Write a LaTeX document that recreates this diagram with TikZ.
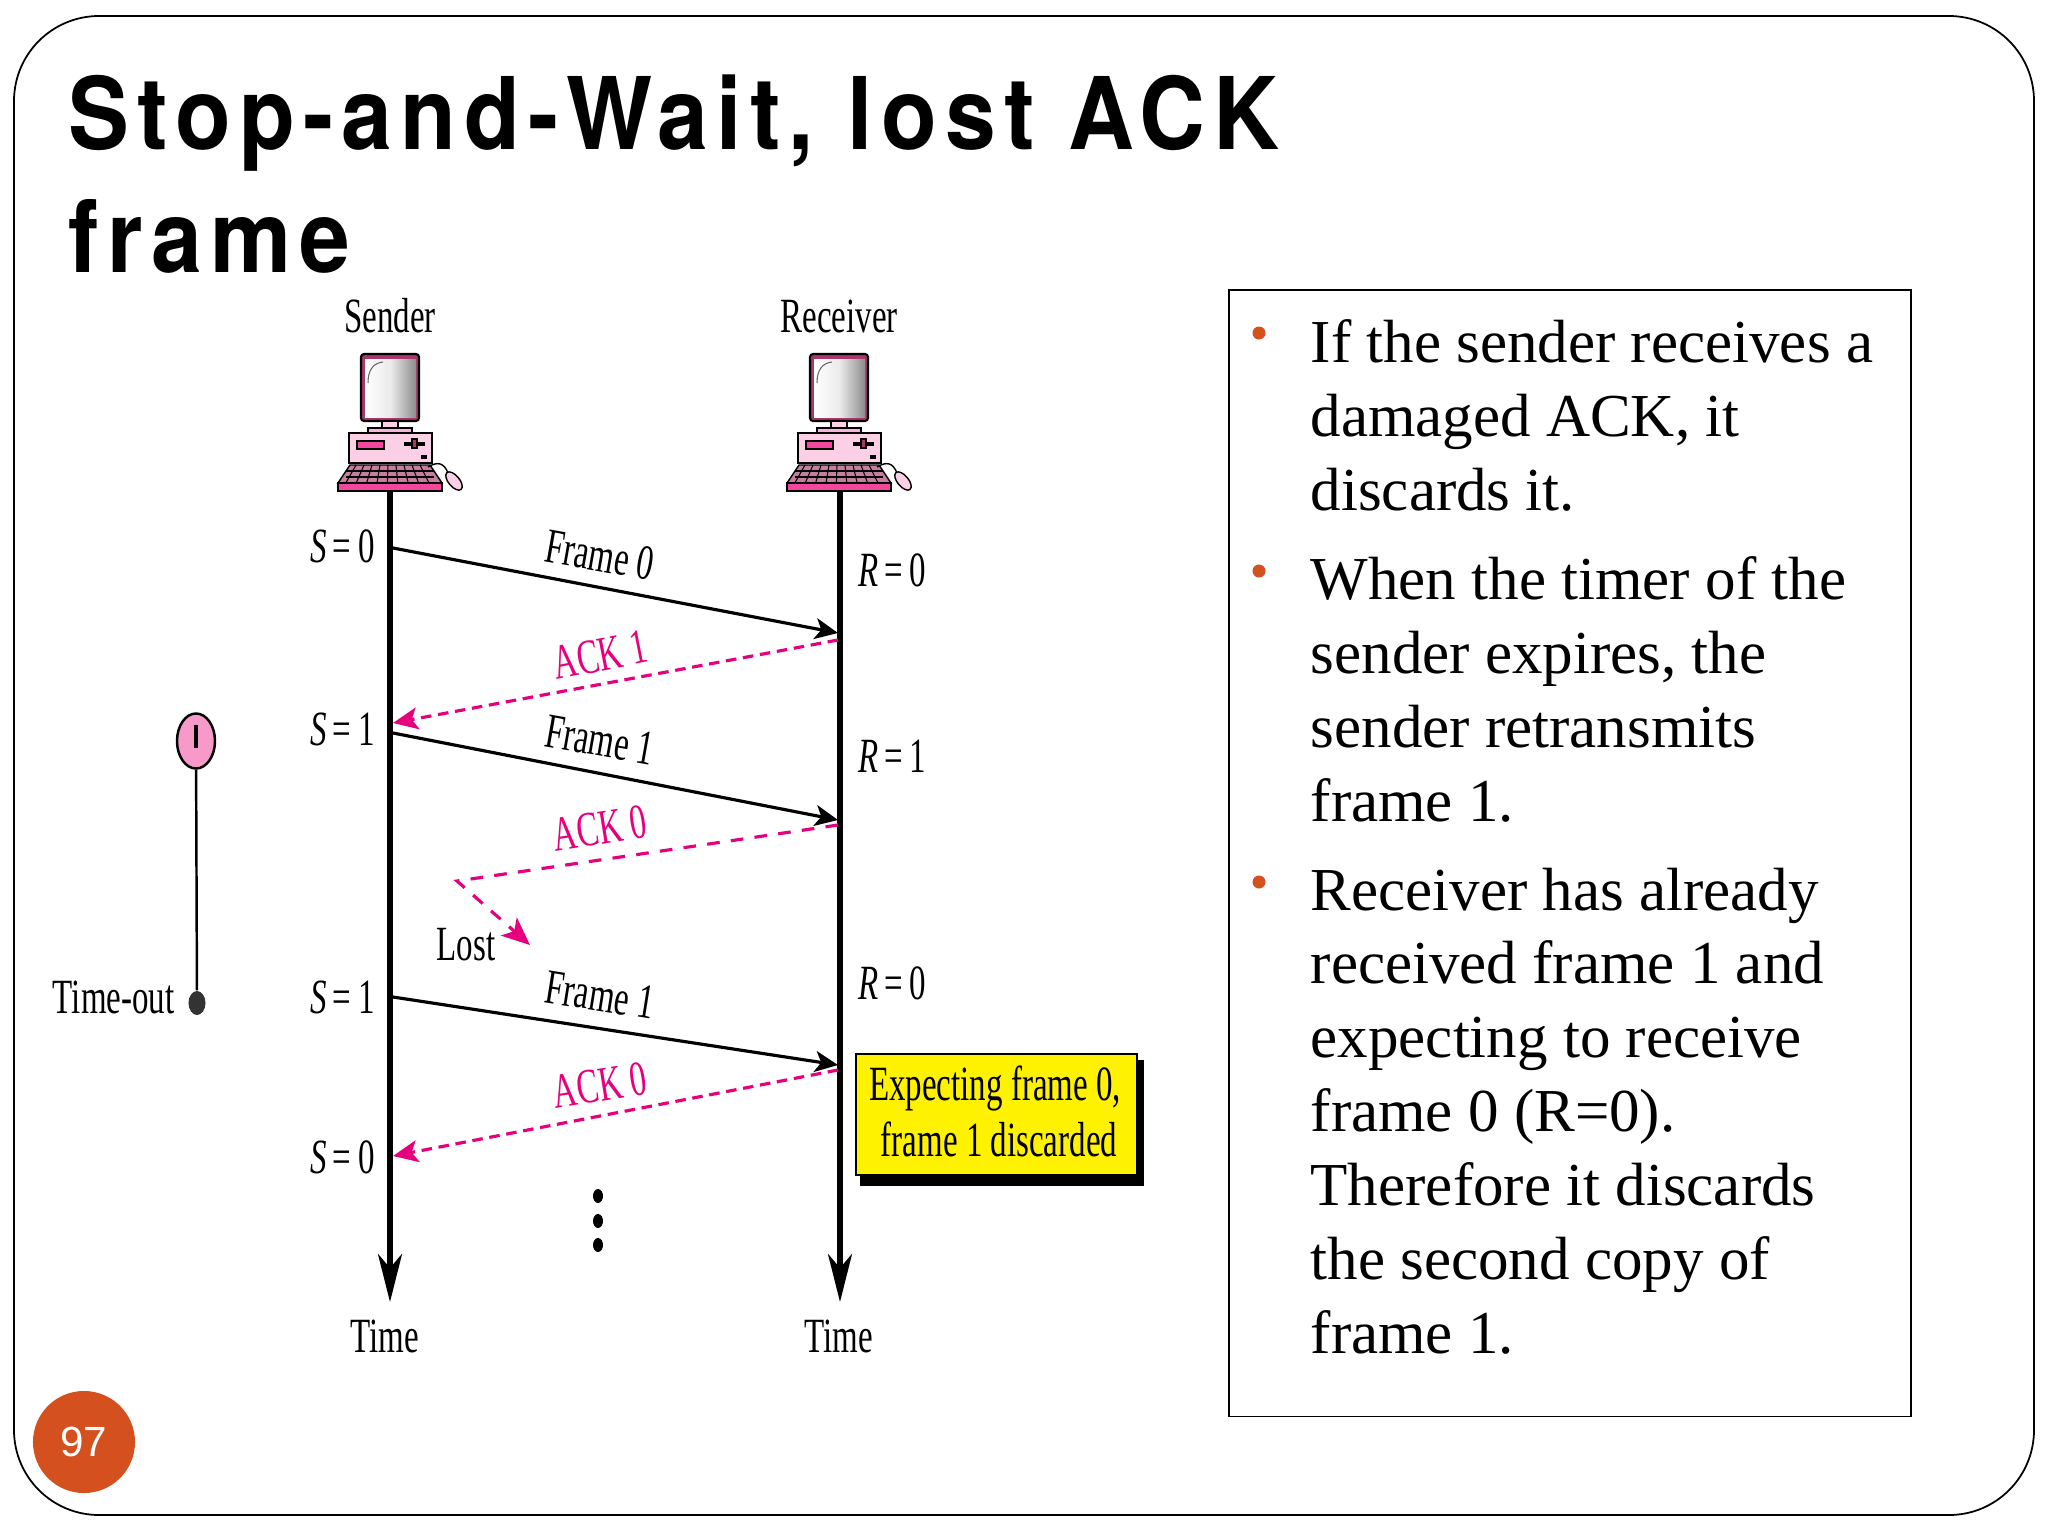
\documentclass[tikz,border=0pt]{standalone}
\usepackage{fontspec}
\setmainfont{Liberation Serif}
\newfontfamily\titlefont[LetterSpace=9]{TeX Gyre Heros}
\newfontfamily\numfont{Liberation Sans}
\usepackage{tikz}
\usetikzlibrary{arrows.meta,positioning,calc,shapes.geometric}
\definecolor{ackpink}{HTML}{E6007E}
\definecolor{bulletred}{HTML}{D4501E}
\definecolor{monpink}{HTML}{A8386A}
\definecolor{casepink}{HTML}{FBD0E6}
\definecolor{keypink}{HTML}{F2479C}
\newcommand{\seq}[2]{\textit{#1}\,=\kern.22em #2}
\tikzset{
  lbl/.style={font=\fontsize{14}{17}\selectfont,xscale=.67,transform shape,inner sep=0pt},
  ackl/.style={lbl,text=ackpink},
  timeline/.style={line width=1.5pt,-{Stealth[length=.48cm,width=.24cm,inset=.14cm]}},
  frm/.style={line width=.9pt,-{Stealth[length=.23cm,width=.21cm,inset=.06cm]}},
  ack/.style={line width=.9pt,ackpink,dash pattern=on 3pt off 1.9pt,-{Stealth[length=.25cm,width=.22cm,inset=.06cm]}},
  lostack/.style={line width=.9pt,ackpink,dash pattern=on 3.6pt off 3.2pt,-{Stealth[length=.28cm,width=.24cm,inset=.07cm]}},
  para/.style={anchor=north west,align=left,inner sep=0pt,font=\fontsize{17.35}{21}\selectfont},
  bul/.style={circle,fill=bulletred,inner sep=0pt,minimum size=.13cm},
  computer/.pic={
    \draw[line width=.6pt,fill=monpink,rounded corners=.03cm] (-29,-137) rectangle (29,-70);
    \shade[left color=white,right color=black!45,middle color=black!8] (-25,-132) rectangle (26,-74);
    \draw[black!60,line width=.3pt] (-22,-108) .. controls (-22,-122) and (-16,-128) .. (-7,-129);
    \draw[line width=.4pt,fill=casepink] (-8,-70) rectangle (8,-63);
    \draw[line width=.4pt,fill=casepink!80!keypink] (-22,-63) rectangle (22,-58);
    \draw[line width=.5pt,fill=casepink] (-41,-58) rectangle (42,-28);
    \draw[line width=.3pt,fill=keypink] (-33,-50) rectangle (-6,-42);
    \draw[line width=.5pt,fill=monpink] (15,-48) rectangle (34,-46);
    \draw[line width=.5pt,fill=monpink] (22,-52) rectangle (27,-43);
    \fill (31,-36) rectangle (37,-32);
    \draw[line width=.4pt,fill=monpink!65] (-40,-26) -- (40,-26) -- (52,-8) -- (-52,-8) -- cycle;
    \foreach \k in {-34,-26,...,34}
      \draw[line width=.3pt] (\k,-26) -- ({\k*1.3},-8);
    \foreach \j in {-20,-14}
      \draw[line width=.3pt] (-44,\j) -- (44,\j);
    \draw[line width=.5pt,fill=keypink] (-52,-8) rectangle (52,0);
    \draw[line width=.4pt] (38,-24) .. controls (48,-30) and (54,-28) .. (58,-18);
    \draw[line width=.4pt,fill=casepink,rotate around={-50:(64,-10)}] (64,-10) ellipse (11 and 5.5);
  }
}
\begin{document}
\begin{tikzpicture}[x=.01cm,y=-.01cm]
\useasboundingbox (0,0) rectangle (2048,1536);
\draw[line width=.5pt,rounded corners=.85cm] (14,16) rectangle (2034,1515);
%
  \node[anchor=north west,align=left,inner sep=0pt,xscale=.91,transform shape,font=\titlefont\bfseries\fontsize{28.5}{35}\selectfont] (title) at (68,74) {Stop-and-Wait, lost ACK\\frame};
%
  \node[lbl] (sender) at (390,316) {Sender};
  \node[lbl] (receiver) at (839,316) {Receiver};
  \pic at (390,491) {computer};
  \pic at (839,491) {computer};
  \coordinate (stop) at (390,491);
  \coordinate (rtop) at (840,491);
  \node[lbl] (stime) at (385,1336) {Time};
  \node[lbl] (rtime) at (839,1336) {Time};
  \coordinate (send) at (390,1302);
  \coordinate (rend) at (840,1302);
  \draw[timeline] (stop) -- (send);
  \draw[timeline] (rtop) -- (rend);
%
  \node[lbl,anchor=east] (s0) at (375,546) {\seq{S}{0}};
  \node[lbl,anchor=east] (s1) at (375,729) {\seq{S}{1}};
  \node[lbl,anchor=east] (s2) at (375,997) {\seq{S}{1}};
  \node[lbl,anchor=east] (s3) at (375,1157) {\seq{S}{0}};
  \node[lbl,anchor=west] (r0) at (858,570) {\seq{R}{0}};
  \node[lbl,anchor=west] (r1) at (858,756) {\seq{R}{1}};
  \node[lbl,anchor=west] (r2) at (858,983) {\seq{R}{0}};
%
  \coordinate (f0a) at (393,548);
  \coordinate (f0b) at (838,633);
  \coordinate (a1a) at (838,640);
  \coordinate (a1b) at (393,723);
  \coordinate (f1a) at (393,733);
  \coordinate (f1b) at (838,820);
  \coordinate (a0a) at (838,825);
  \coordinate (a0b) at (457,881);
  \coordinate (lost) at (530,945);
  \coordinate (f2a) at (393,997);
  \coordinate (f2b) at (838,1065);
  \coordinate (a2a) at (838,1070);
  \coordinate (a2b) at (393,1156);
  \draw[frm] (f0a) -- (f0b);
  \draw[ack] (a1a) -- (a1b);
  \draw[frm] (f1a) -- (f1b);
  \draw[lostack] (a0a) -- (a0b) -- (lost);
  \draw[frm] (f2a) -- (f2b);
  \draw[ack] (a2a) -- (a2b);
%
  \node[rotate=-10,lbl] (lf0) at (600,555) {Frame 0};
  \node[rotate=11,ackl] (la1) at (600,655) {ACK 1};
  \node[rotate=-10,lbl] (lf1) at (600,740) {Frame 1};
  \node[rotate=9,ackl] (la0) at (600,828) {ACK 0};
  \node[lbl] (llost) at (466,945) {Lost};
  \node[rotate=-9,lbl] (lf2) at (600,995) {Frame 1};
  \node[rotate=9,ackl] (la2) at (600,1085) {ACK 0};
%
  \foreach \y in {1196,1221,1245}
    \fill (598,\y) ellipse (5 and 7);
%
  \node[ellipse,draw,line width=.7pt,fill=keypink!55,minimum width=.38cm,minimum height=.55cm,inner sep=0pt] (clock) at (196,741) {};
  \draw[line width=1pt] (196,725) -- (196,748);
  \node[ellipse,fill=black!80,minimum width=.17cm,minimum height=.24cm,inner sep=0pt] (timeup) at (197,1003) {};
  \draw[line width=.7pt] (clock) -- (timeup);
  \node[lbl,anchor=east] (tout) at (175,997) {Time-out};
%
  \fill (860,1060) rectangle (1144,1186);
  \node[draw,line width=.6pt,fill=yellow,anchor=north west,minimum width=2.81cm,minimum height=1.21cm,inner sep=0pt] (note) at (855,1053) {};
  \node[lbl] (notea) at (995,1088) {Expecting frame 0,};
  \node[lbl] (noteb) at (999,1139) {frame 1 discarded};
%
  \node[draw,line width=.5pt,anchor=north west,minimum width=6.82cm,minimum height=11.26cm,inner sep=0pt] (box) at (1228,289) {};
  \node[bul] (b1) at (1259,333) {};
  \node[bul] (b2) at (1259,571) {};
  \node[bul] (b3) at (1259,882) {};
  \node[para] (p1) at (1310,319) {If the sender receives a\\damaged ACK, it\\discards it.};
  \node[para] (p2) at (1310,556) {When the timer of the\\sender expires, the\\sender retransmits\\frame 1.};
  \node[para] (p3) at (1310,867) {Receiver has already\\received frame 1 and\\expecting to receive\\frame 0 (R=0).\\Therefore it discards\\the second copy of\\frame 1.};
%
  \node[circle,fill=bulletred,minimum size=1.02cm,inner sep=0pt,text=white,font=\numfont\fontsize{12}{14}\selectfont] (page) at (84,1442) {97};
\end{tikzpicture}
\end{document}
